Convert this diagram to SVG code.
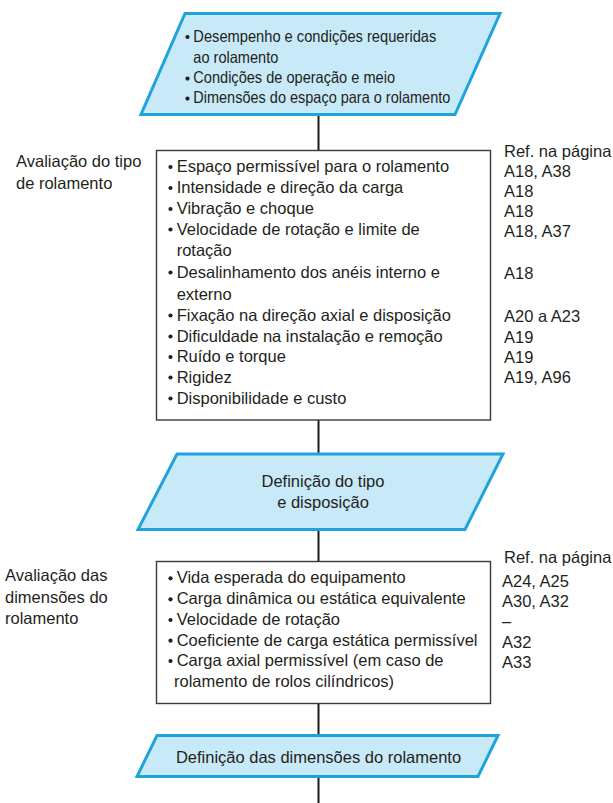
<svg xmlns="http://www.w3.org/2000/svg" width="613" height="803" viewBox="0 0 613 803">
<style>
text{font-family:"Liberation Sans",Arial,sans-serif;font-size:16.5px;fill:#231f20}
.para{fill:#c8e9f8;stroke:#1fa3dd;stroke-width:3;stroke-linejoin:miter}
.box{fill:#ffffff;stroke:#3a3a3a;stroke-width:1.4}
.conn{stroke:#1a1a1a;stroke-width:2;fill:none}
.bul{fill:#231f20}
.mid{text-anchor:middle}
</style>
<rect width="613" height="803" fill="#ffffff"/>
<g id="connectors">
<line class="conn" x1="318.5" y1="115" x2="318.5" y2="151"/>
<line class="conn" x1="318.5" y1="420" x2="318.5" y2="454"/>
<line class="conn" x1="318.5" y1="529" x2="318.5" y2="562"/>
<line class="conn" x1="318.5" y1="703" x2="318.5" y2="735"/>
<line class="conn" x1="318.5" y1="777" x2="318.5" y2="803"/>
</g>
<g id="input">
<polygon class="para" points="185,13.5 500,13.5 455,114.5 141,114.5"/>
<circle class="bul" cx="187.5" cy="37" r="2.1"/>
<text x="193.3" y="41.7" textLength="243" lengthAdjust="spacingAndGlyphs">Desempenho e condições requeridas</text>
<text x="193.3" y="62.7" textLength="85" lengthAdjust="spacingAndGlyphs">ao rolamento</text>
<circle class="bul" cx="187.5" cy="78.6" r="2.1"/>
<text x="193.3" y="83.3" textLength="201.7" lengthAdjust="spacingAndGlyphs">Condições de operação e meio</text>
<circle class="bul" cx="187.5" cy="98.6" r="2.1"/>
<text x="193.3" y="103.3" textLength="257" lengthAdjust="spacingAndGlyphs">Dimensões do espaço para o rolamento</text>
</g>
<g id="label-type">
<text x="16" y="167">Avaliação do tipo</text>
<text x="16" y="188.5">de rolamento</text>
</g>
<g id="type-evaluation">
<rect class="box" x="156.5" y="150.5" width="334" height="269.5"/>
<circle class="bul" cx="170.5" cy="167" r="2.1"/>
<text x="176.7" y="172">Espaço permissível para o rolamento</text>
<circle class="bul" cx="170.5" cy="188" r="2.1"/>
<text x="176.7" y="193">Intensidade e direção da carga</text>
<circle class="bul" cx="170.5" cy="209" r="2.1"/>
<text x="176.7" y="214">Vibração e choque</text>
<circle class="bul" cx="170.5" cy="229.5" r="2.1"/>
<text x="176.7" y="234.5">Velocidade de rotação e limite de</text>
<text x="176.7" y="255.5">rotação</text>
<circle class="bul" cx="170.5" cy="272.5" r="2.1"/>
<text x="176.7" y="277.5">Desalinhamento dos anéis interno e</text>
<text x="176.7" y="299.5">externo</text>
<circle class="bul" cx="170.5" cy="315.5" r="2.1"/>
<text x="176.7" y="320.5">Fixação na direção axial e disposição</text>
<circle class="bul" cx="170.5" cy="336.5" r="2.1"/>
<text x="176.7" y="341.5">Dificuldade na instalação e remoção</text>
<circle class="bul" cx="170.5" cy="357" r="2.1"/>
<text x="176.7" y="362">Ruído e torque</text>
<circle class="bul" cx="170.5" cy="377.5" r="2.1"/>
<text x="176.7" y="382.5">Rigidez</text>
<circle class="bul" cx="170.5" cy="398.5" r="2.1"/>
<text x="176.7" y="403.5">Disponibilidade e custo</text>
</g>
<g id="refs-type">
<text x="504" y="157">Ref. na página</text>
<text x="504" y="176.5">A18, A38</text>
<text x="504" y="196.5">A18</text>
<text x="504" y="216.5">A18</text>
<text x="504" y="236.5">A18, A37</text>
<text x="504" y="279">A18</text>
<text x="504" y="322">A20 a A23</text>
<text x="504" y="342.5">A19</text>
<text x="504" y="363">A19</text>
<text x="504" y="383">A19, A96</text>
</g>
<g id="type-definition">
<polygon class="para" points="177,454 503,454 465,529.5 138,529.5"/>
<text class="mid" x="323" y="486.7">Definição do tipo</text>
<text class="mid" x="323" y="508">e disposição</text>
</g>
<g id="label-dimensions">
<text x="5" y="581">Avaliação das</text>
<text x="5" y="602.5">dimensões do</text>
<text x="5" y="624">rolamento</text>
</g>
<g id="dimension-evaluation">
<rect class="box" x="156.5" y="561.5" width="334" height="142"/>
<circle class="bul" cx="170.5" cy="578.3" r="2.1"/>
<text x="176.7" y="583.3">Vida esperada do equipamento</text>
<circle class="bul" cx="170.5" cy="599.3" r="2.1"/>
<text x="176.7" y="604.3">Carga dinâmica ou estática equivalente</text>
<circle class="bul" cx="170.5" cy="620" r="2.1"/>
<text x="176.7" y="625">Velocidade de rotação</text>
<circle class="bul" cx="170.5" cy="640.7" r="2.1"/>
<text x="176.7" y="645.7">Coeficiente de carga estática permissível</text>
<circle class="bul" cx="170.5" cy="661" r="2.1"/>
<text x="176.7" y="666">Carga axial permissível (em caso de</text>
<text x="174" y="686.7">rolamento de rolos cilíndricos)</text>
</g>
<g id="refs-dimensions">
<text x="504" y="563">Ref. na página</text>
<text x="502" y="587.3">A24, A25</text>
<text x="502" y="607.3">A30, A32</text>
<text x="502" y="627">–</text>
<text x="502" y="648.3">A32</text>
<text x="502" y="668.3">A33</text>
</g>
<g id="dimension-definition">
<polygon class="para" points="157,735.5 498,735.5 478,776.5 137,776.5"/>
<text class="mid" x="318.5" y="763.3">Definição das dimensões do rolamento</text>
</g>
</svg>
